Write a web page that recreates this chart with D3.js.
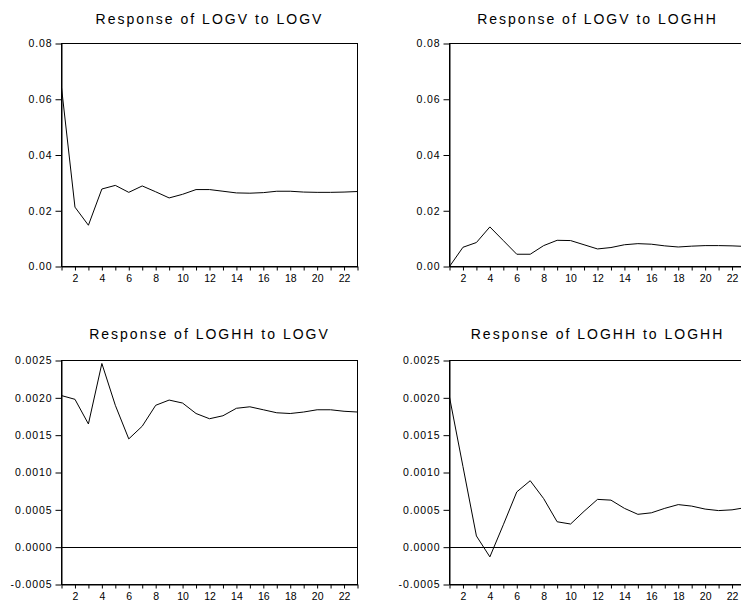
<!DOCTYPE html>
<html>
<head>
<meta charset="utf-8">
<script src="https://cdn.jsdelivr.net/npm/d3@7"></script>
<style>
  body { margin: 0; background: #fff; }
  svg { display: block; }
  text { font-family: "Liberation Sans", Arial, sans-serif; fill: #000; }
</style>
</head>
<body>
<svg id="chart" width="741" height="610"></svg>
<script>
// Impulse response horizon (periods 1..23)
const periods = d3.range(1, 24);
const xTickLabels = [2, 4, 6, 8, 10, 12, 14, 16, 18, 20, 22];

// Response of LOGV to LOGV
const logvToLogv = [0.0642, 0.0213, 0.0148, 0.0278, 0.0291, 0.0266, 0.0289, 0.0268, 0.0246, 0.0259,
  0.0276, 0.0276, 0.0270, 0.0264, 0.0263, 0.0265, 0.0270, 0.0270, 0.0267, 0.0266, 0.0266, 0.0267, 0.0269];
// Response of LOGV to LOGHH
const logvToLoghh = [0.0000, 0.0069, 0.0086, 0.0142, 0.0093, 0.0044, 0.0044, 0.0075, 0.0094, 0.0093,
  0.0078, 0.0063, 0.0068, 0.0078, 0.0082, 0.0080, 0.0074, 0.0070, 0.0073, 0.0075, 0.0075, 0.0074, 0.0072];
// Response of LOGHH to LOGV
const loghhToLogv = [0.00203, 0.00198, 0.00165, 0.00246, 0.00190, 0.00145, 0.00162, 0.00190, 0.00197, 0.00193,
  0.00179, 0.00172, 0.00176, 0.00186, 0.00188, 0.00184, 0.00180, 0.00179, 0.00181, 0.00184, 0.00184, 0.00182, 0.00181];
// Response of LOGHH to LOGHH
const loghhToLoghh = [0.00201, 0.00108, 0.00015, -0.00013, 0.00030, 0.00074, 0.00089, 0.00065, 0.00034, 0.00031,
  0.00048, 0.00064, 0.00063, 0.00052, 0.00044, 0.00046, 0.00052, 0.00057, 0.00055, 0.00051, 0.00049, 0.00050, 0.00053];

const titles = [
  "Response of LOGV to LOGV",
  "Response of LOGV to LOGHH",
  "Response of LOGHH to LOGV",
  "Response of LOGHH to LOGHH"
];

const topTicks = [0, 0.02, 0.04, 0.06, 0.08];
const topDomain = [0, 0.08];
const bottomTicks = [-0.0005, 0, 0.0005, 0.0010, 0.0015, 0.0020, 0.0025];
const bottomDomain = [-0.0005, 0.0025];

const svg = d3.select("#chart");

// Panel geometry
const colLeft = [61.5, 449.5];
const plotW = 296;
const rows = [
  { top: 43.5, bottom: 266.5, titleY: 24, domain: topDomain, ticks: topTicks, fmt: d3.format(".2f"), zeroLine: false },
  { top: 360.5, bottom: 584.5, titleY: 339, domain: bottomDomain, ticks: bottomTicks, fmt: d => d3.format(".4f")(d).replace("\u2212", "-"), zeroLine: true }
];

const panels = [
  { row: 0, col: 0, values: logvToLogv, title: titles[0] },
  { row: 0, col: 1, values: logvToLoghh, title: titles[1] },
  { row: 1, col: 0, values: loghhToLogv, title: titles[2] },
  { row: 1, col: 1, values: loghhToLoghh, title: titles[3] }
];

panels.forEach(p => {
  const r = rows[p.row];
  const left = colLeft[p.col];
  const x = d3.scaleLinear().domain([1, 23]).range([left, left + plotW]);
  const y = d3.scaleLinear().domain(r.domain).range([r.bottom, r.top]);
  const g = svg.append("g");

  // Frame around the plot area
  g.append("rect")
    .attr("x", left).attr("y", r.top)
    .attr("width", plotW).attr("height", r.bottom - r.top)
    .attr("fill", "none").attr("stroke", "#000").attr("stroke-width", 1);

  // Zero reference line
  if (r.zeroLine) {
    g.append("line")
      .attr("x1", left).attr("x2", left + plotW)
      .attr("y1", Math.round(y(0)) + 0.5).attr("y2", Math.round(y(0)) + 0.5)
      .attr("stroke", "#000").attr("stroke-width", 1);
  }

  // X axis: tick at every period, labels on even periods
  const xAxis = d3.axisBottom(x)
    .tickValues(periods)
    .tickSize(4).tickSizeOuter(0).tickPadding(4)
    .tickFormat(d => xTickLabels.includes(d) ? String(d) : "");
  const xg = g.append("g").attr("transform", `translate(0,${r.bottom})`).call(xAxis);
  xg.selectAll("text").style("font-size", "10.5px");

  // Y axis
  const yAxis = d3.axisLeft(y)
    .tickValues(r.ticks)
    .tickSize(6).tickSizeOuter(0).tickPadding(3)
    .tickFormat(r.fmt);
  const yg = g.append("g").attr("transform", `translate(${left},0)`).call(yAxis);
  yg.selectAll("text").style("font-size", "10.5px").style("letter-spacing", "0.9px");

  [xg, yg].forEach(a => {
    a.select(".domain").attr("stroke", "#000");
    a.selectAll(".tick line").attr("stroke", "#000");
    a.selectAll("text").attr("fill", "#000").attr("font-family", null);
  });

  // Response line
  const line = d3.line()
    .x((d, i) => x(periods[i]))
    .y(d => y(d));
  g.append("path")
    .datum(p.values)
    .attr("d", line)
    .attr("fill", "none")
    .attr("stroke", "#000")
    .attr("stroke-width", 1);

  // Title
  g.append("text")
    .attr("x", left + plotW / 2)
    .attr("y", r.titleY)
    .attr("text-anchor", "middle")
    .style("font-size", "14px")
    .style("letter-spacing", "2px")
    .text(p.title);
});
</script>
</body>
</html>
